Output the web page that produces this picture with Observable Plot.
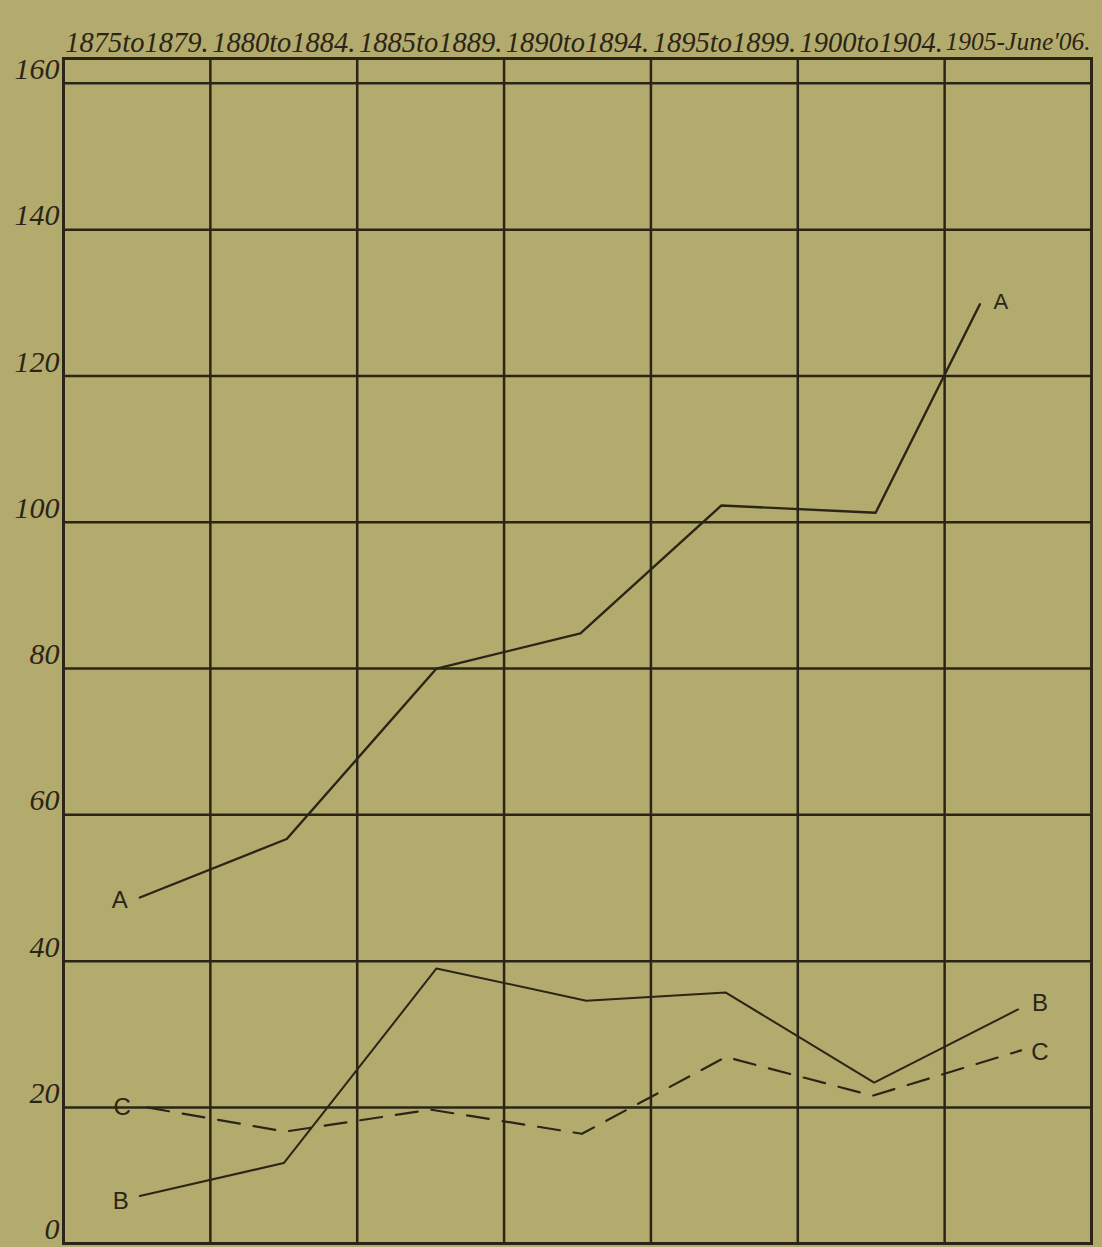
<!DOCTYPE html>
<html>
<head>
<meta charset="utf-8">
<script src="https://cdn.jsdelivr.net/npm/d3@7"></script>
<script src="https://cdn.jsdelivr.net/npm/@observablehq/plot@0.6"></script>
<style>
  html, body { margin: 0; padding: 0; background: #b3ab6d; }
  #chart svg { display: block; }
</style>
</head>
<body>
<div id="chart"></div>
<script>
// Period labels (written across the top) and the year each column starts
const periods = ["1875to1879.", "1880to1884.", "1885to1889.", "1890to1894.", "1895to1899.", "1900to1904.", "1905-June'06."];
const periodStart = [1875, 1880, 1885, 1890, 1895, 1900, 1905];
const yTicks = [0, 20, 40, 60, 80, 100, 120, 140, 160];

// Series A: x as year position, y value
const yearsA = [1877.6, 1882.6, 1887.7, 1892.6, 1897.4, 1902.65, 1906.2];
const valuesA = [48.7, 56.7, 80.0, 84.8, 102.3, 101.3, 129.8];

// Series B
const yearsB = [1877.6, 1882.5, 1887.7, 1892.8, 1897.55, 1902.6, 1907.5];
const valuesB = [7.9, 12.4, 39.0, 34.6, 35.7, 23.4, 33.4];

// Series C (dashed)
const yearsC = [1877.85, 1882.55, 1887.5, 1892.65, 1897.55, 1902.55, 1907.6];
const valuesC = [20.0, 16.7, 19.7, 16.4, 26.9, 21.6, 27.8];

const ink = "#2a2516";
const rows = (name, xs, ys) => xs.map((x, i) => ({series: name, x, y: ys[i]}));
const A = rows("A", yearsA, valuesA);
const B = rows("B", yearsB, valuesB);
const C = rows("C", yearsC, valuesC);

const gridYears = periodStart.slice(1);
const gridValues = yTicks.filter(v => v > 0);
const yMin = 1.4, yMax = 163.4;

const letter = {fontSize: 24, fill: ink, fontFamily: "'Liberation Sans', sans-serif"};

const chart = Plot.plot({
  width: 1102,
  height: 1247,
  marginLeft: 63,
  marginRight: 11,
  marginTop: 58,
  marginBottom: 4,
  style: {background: "#b3ab6d", color: ink},
  x: {domain: [1875, 1910], axis: null},
  y: {domain: [yMin, yMax], axis: null},
  marks: [
    Plot.ruleX(gridYears, {stroke: ink, strokeWidth: 2.5}),
    Plot.ruleY(gridValues, {stroke: ink, strokeWidth: 2.5}),
    Plot.frame({stroke: ink, strokeWidth: 3}),
    Plot.line(A, {x: "x", y: "y", stroke: ink, strokeWidth: 2.4}),
    Plot.line(B, {x: "x", y: "y", stroke: ink, strokeWidth: 2}),
    Plot.line(C, {x: "x", y: "y", stroke: ink, strokeWidth: 2.2, strokeDasharray: "22,14"}),
    // series letters at both ends
    Plot.text(A, Plot.selectFirst({x: "x", y: "y", text: "series", dx: -20, dy: 3, ...letter})),
    Plot.text(A, Plot.selectLast({x: "x", y: "y", text: "series", dx: 21, dy: -2, ...letter, fontSize: 22})),
    Plot.text(B, Plot.selectFirst({x: "x", y: "y", text: "series", dx: -19, dy: 5, ...letter})),
    Plot.text(B, Plot.selectLast({x: "x", y: "y", text: "series", dx: 22, dy: -6, ...letter})),
    Plot.text(C, Plot.selectFirst({x: "x", y: "y", text: "series", dx: -25, dy: 0, ...letter})),
    Plot.text(C, Plot.selectLast({x: "x", y: "y", text: "series", dx: 19, dy: 2, ...letter})),
    // period labels across the top
    Plot.text(periods, {x: (d, i) => periodStart[i] + 2.5, frameAnchor: "top", dy: -27, dx: (0), text: d => d,
      fontSize: (d, i) => (i === periods.length - 1 ? 25.5 : 28.5),
      fontStyle: "italic", fontFamily: "'Liberation Serif', serif", fill: ink}),
    // value labels on the left (the 0 sits on the bottom border)
    Plot.text(yTicks, {y: d => Math.max(d, yMin), frameAnchor: "left", dx: -4, dy: -14, textAnchor: "end", text: d => String(d),
      fontSize: 30, fontStyle: "italic", fontFamily: "'Liberation Serif', serif", fill: ink})
  ]
});
document.getElementById("chart").appendChild(chart);
</script>
</body>
</html>
